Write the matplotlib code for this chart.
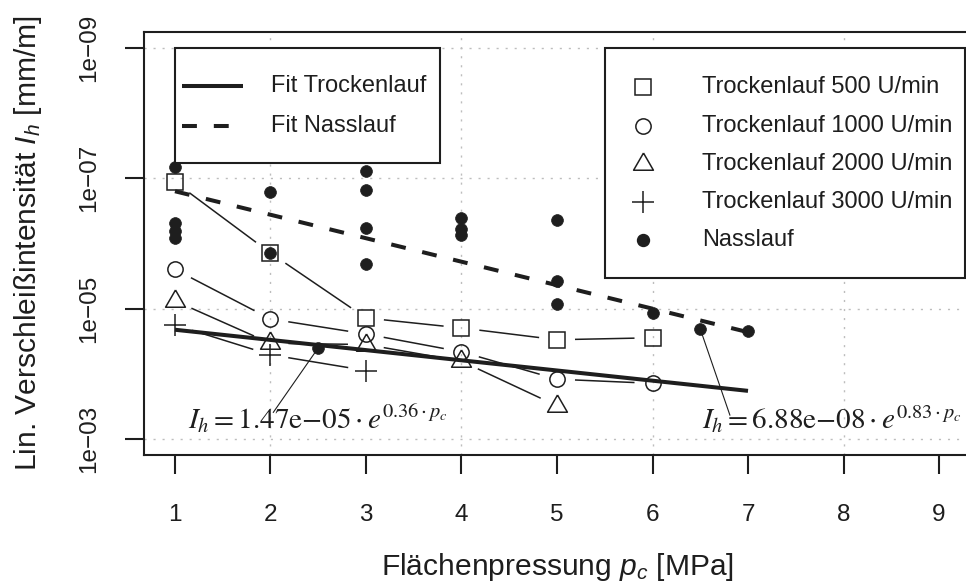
import numpy as np
import matplotlib
matplotlib.use("Agg")
import matplotlib.pyplot as plt
from matplotlib.transforms import Affine2D
from matplotlib.patches import Rectangle
from matplotlib.lines import Line2D
from matplotlib.markers import MarkerStyle
from matplotlib.ticker import NullLocator

W, H = 966, 583
plt.rcParams["font.family"] = ["Liberation Sans", "DejaVu Sans"]
plt.rcParams["mathtext.fontset"] = "custom"
plt.rcParams["mathtext.rm"] = "Liberation Sans"
plt.rcParams["mathtext.it"] = "Liberation Sans:italic"
plt.rcParams["mathtext.bf"] = "Liberation Sans:bold"

INK = "#1e1e1e"
GRID = "#bdbdbd"

# ---- measurements: linear wear intensity I_h [mm/m] over contact pressure p_c [MPa]
p_500 = [1, 2, 3, 4, 5, 6]
I_500 = [1.14e-7, 1.4e-6, 1.39e-5, 1.98e-5, 3.0e-5, 2.8e-5]
p_1000 = [1, 2, 3, 4, 5, 6]
I_1000 = [2.5e-6, 1.44e-5, 2.45e-5, 4.6e-5, 1.21e-4, 1.4e-4]
p_2000 = [1, 2, 3, 4, 5]
I_2000 = [7.6e-6, 3.4e-5, 3.55e-5, 6.4e-5, 3.1e-4]
p_3000 = [1, 2, 3]
I_3000 = [1.78e-5, 5.1e-5, 8.9e-5]
p_wet = [1, 1, 1, 1, 2, 2, 3, 3, 3, 3, 4, 4, 4, 5, 5, 5, 6, 7]
I_wet = [6.6e-8, 4.8e-7, 6.4e-7, 8.2e-7, 1.62e-7, 1.4e-6, 7.6e-8, 1.5e-7,
         5.8e-7, 2.06e-6, 4.1e-7, 6.0e-7, 7.4e-7, 4.4e-7, 3.8e-6, 8.5e-6,
         1.16e-5, 2.2e-5]

# exponential fits I_h = a * exp(b * p_c)
fit_dry = (1.47e-05, 0.36)
fit_wet = (6.88e-08, 0.83)
fit_range = (1, 7)

# fit labels: anchor point, end of leader line, text position
anchor_p = [2.5, 6.5]
anchor_I = [4.0e-5, 2.05e-5]
leader_p = [2.03, 6.81]
leader_I = [3.9e-4, 4.3e-4]
label_p = [2.5, 9.24]
label_I = [7.0e-4, 7.0e-4]

x_ticks = [1, 2, 3, 4, 5, 6, 7, 8, 9]
y_ticks = [1e-9, 1e-7, 1e-5, 1e-3]
y_ticklabels = ["1e\u221209", "1e\u221207", "1e\u221205", "1e\u221203"]
x_grid = [2, 4, 6, 8]

fig = plt.figure(figsize=(W / 100, H / 100), dpi=100)
ax_l, ax_r, ax_t, ax_b = 144.4, 969.6, 32.4, 454.6
ax = fig.add_axes([ax_l / W, 1 - ax_b / H, (ax_r - ax_l) / W, (ax_b - ax_t) / H])
px = Affine2D().scale(1 / W, -1 / H).translate(0, 1) + fig.transFigure

ax.set_yscale("log")
ax.set_xlim(0.68, 9.32)
ax.set_ylim(10 ** (-3 + 0.24), 10 ** (-9 - 0.24))
ax.yaxis.set_minor_locator(NullLocator())
ax.set_xticks(x_ticks)
ax.set_xticklabels([str(t) for t in x_ticks])
ax.set_yticks(y_ticks)
ax.set_yticklabels(y_ticklabels, rotation=90, va="center")
ax.tick_params(direction="out", length=13.7, width=1.5, color=INK,
               labelcolor=INK, labelsize=17.5)
ax.tick_params(axis="x", pad=22)
ax.tick_params(axis="y", pad=18)
for s in ax.spines.values():
    s.set_color(INK)
    s.set_linewidth(1.5)

dot_style = dict(linestyle=(0, (1.5, 5)), lw=1.0, color=GRID, zorder=0)
for xg in x_grid:
    ax.axvline(xg, **dot_style)
for yg in y_ticks:
    ax.axhline(yg, **dot_style)


def gapped(xs, ys, gap=18):
    """Connect consecutive points, leaving a gap around each symbol."""
    pts = ax.transData.transform(np.column_stack([xs, ys]))
    inv = ax.transData.inverted()
    for a, b in zip(pts[:-1], pts[1:]):
        d = b - a
        L = np.hypot(*d)
        if L <= 2 * gap:
            continue
        u = d / L
        seg = inv.transform(np.vstack([a + u * gap, b - u * gap]))
        ax.plot(seg[:, 0], seg[:, 1], color=INK, lw=1.1, zorder=2,
                solid_capstyle="butt")


tri = MarkerStyle([(0, 1), (-0.866, -0.5), (0.866, -0.5), (0, 1)])
series = [
    (p_500, I_500, "s", 11, "Trockenlauf 500 U/min"),
    (p_1000, I_1000, "o", 11, "Trockenlauf 1000 U/min"),
    (p_2000, I_2000, tri, 16.5, "Trockenlauf 2000 U/min"),
    (p_3000, I_3000, "+", 15.5, "Trockenlauf 3000 U/min"),
]
for xs, ys, m, ms, _ in series:
    gapped(xs, ys)
    ax.plot(xs, ys, linestyle="none", marker=m, ms=ms, mfc="none",
            mec=INK, mew=1.1, zorder=3)
ax.plot(p_wet, I_wet, linestyle="none", marker="o", ms=8.5, mfc=INK,
        mec=INK, mew=0.5, zorder=3)

pp = np.linspace(fit_range[0], fit_range[1], 200)
ax.plot(pp, fit_dry[0] * np.exp(fit_dry[1] * pp), color=INK, lw=2.9,
        solid_capstyle="butt", zorder=4)
ax.plot(pp, fit_wet[0] * np.exp(fit_wet[1] * pp), color=INK, lw=2.9,
        linestyle=(0, (3.7, 4.2)), dash_capstyle="butt", zorder=4)

# fit equations with leader lines
for i in range(2):
    ax.plot([anchor_p[i], leader_p[i]], [anchor_I[i], leader_I[i]],
            color=INK, lw=0.8, zorder=4)
ax.plot(anchor_p, anchor_I, linestyle="none", marker="o", ms=8.5, mfc=INK,
        mec=INK, mew=0.5, zorder=5)
ax.text(label_p[0], label_I[0],
        r"$I_h = 1.47\mathrm{e}{-}05 \cdot e^{0.36 \cdot p_c}$",
        math_fontfamily="stix", fontsize=21, color=INK,
        ha="center", va="baseline", zorder=6)
ax.text(label_p[1], label_I[1],
        r"$I_h = 6.88\mathrm{e}{-}08 \cdot e^{0.83 \cdot p_c}$",
        math_fontfamily="stix", fontsize=21, color=INK,
        ha="right", va="baseline", zorder=6)

# axis titles
ax.set_xlabel("Fl\u00e4chenpressung $p_c$ [MPa]", fontsize=21.6, color=INK,
              va="baseline")
ax.xaxis.set_label_coords(0.5, (ax_b - 575) / (ax_b - ax_t))
ax.set_ylabel("Lin. Verschlei\u00dfintensit\u00e4t $I_h$ [mm/m]",
              fontsize=21.6, color=INK, va="center")
ax.yaxis.set_label_coords((28 - ax_l) / (ax_r - ax_l), 0.5)

# legend: fits
fig.add_artist(Rectangle((175, 48), 265, 115, transform=px, fc="white",
                         ec=INK, lw=1.5, zorder=10))
fig.add_artist(Line2D([182, 243], [86, 86], transform=px, color=INK, lw=2.9,
                      solid_capstyle="butt", zorder=11))
fig.add_artist(Line2D([182, 243], [126, 126], transform=px, color=INK,
                      lw=2.9, linestyle=(0, (3.7, 4.2)),
                      dash_capstyle="butt", zorder=11))
fig.text(271, 86, "Fit Trockenlauf", transform=px, fontsize=17, color=INK,
         ha="left", va="center", zorder=12)
fig.text(271, 126, "Fit Nasslauf", transform=px, fontsize=17, color=INK,
         ha="left", va="center", zorder=12)

# legend: measurements
fig.add_artist(Rectangle((605, 48), 360, 230, transform=px, fc="white",
                         ec=INK, lw=1.5, zorder=10))
rows = [87, 126, 164, 202, 240]
entries = [(m, ms, "none", lab) for _, _, m, ms, lab in series]
entries.append(("o", 8.5, INK, "Nasslauf"))
for y, (m, ms, fc, lab) in zip(rows, entries):
    fig.add_artist(Line2D([643], [y], transform=px, linestyle="none",
                          marker=m, ms=ms, mfc=fc, mec=INK, mew=1.1,
                          zorder=11))
    fig.text(702, y, lab, transform=px, fontsize=17, color=INK,
             ha="left", va="center", zorder=12)

fig.savefig("out.png", dpi=100)
